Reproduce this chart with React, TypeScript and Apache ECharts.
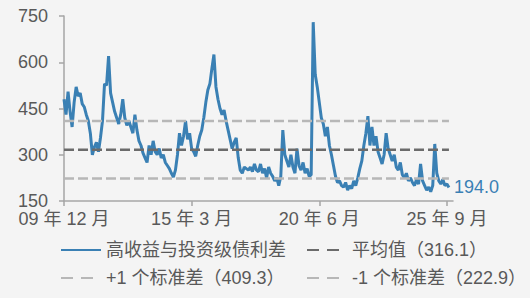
import React, { useEffect, useRef } from "react";
import * as echarts from "echarts";

// Monthly spread values, Dec 2009 .. Oct 2025 (bp)
const spread: number[] = [
  480, 430, 505, 440, 390, 470, 520, 490, 500, 465,
  455, 430, 410, 370, 300, 325, 340, 310, 355, 410,
  530, 525, 620, 500, 470, 440, 420, 400, 430, 480,
  420, 395, 410, 390, 370, 430, 380, 345, 330, 305,
  290, 275, 330, 300, 345, 310, 300, 320, 290, 300,
  275, 265, 255, 240, 228, 250, 300, 370, 330, 360,
  410, 350, 370, 320, 310, 295, 330, 360, 380, 420,
  470, 510, 530, 580, 625, 520, 480, 450, 430, 445,
  410, 380, 350, 320, 340, 355, 290, 250, 240, 260,
  255, 250, 260, 245, 270, 250, 245, 270, 240, 255,
  225, 260, 240, 230, 215, 225, 200, 230, 380, 300,
  280, 260, 300, 260, 240, 320, 265, 250, 275, 240,
  255, 230, 235, 730, 560, 520, 470, 420, 400, 360,
  390, 330, 300, 265, 230, 210, 215, 200, 195, 210,
  185, 200, 190, 215, 200, 225, 255, 280, 330, 370,
  425, 330, 390, 330, 360, 310, 290, 270, 300, 370,
  320, 300, 280, 300, 260, 250, 275, 235, 225, 240,
  215, 225, 210, 200, 220, 205, 270, 215, 200, 185,
  195, 180, 200, 335, 240, 215, 205, 220, 200, 205, 194,
];

const meanValue = 316.1;
const plusOneSd = 409.3;
const minusOneSd = 222.9;

const seriesNames = [
  "高收益与投资级债利差",
  "平均值（316.1）",
  "+1 个标准差（409.3）",
  "-1 个标准差（222.9）",
];

const xTickLabels = ["09 年 12 月", "15 年 3 月", "20 年 6 月", "25 年 9 月"];
const monthsPerTick = 63;
const axisMonthCount = 193;
const startYear = 2009;
const startMonth = 12;

const yMin = 150;
const yMax = 750;
const yInterval = 150;

const BLUE = "#3a80b4";
const DARK = "#6b6b6b";
const LIGHT = "#b7b7b7";
const FONT = "'Liberation Sans', Arial, 'Noto Sans CJK SC', sans-serif";

const categories: string[] = [];
for (let i = 0; i < axisMonthCount; i++) {
  const t = startYear * 12 + (startMonth - 1) + i;
  categories.push(`${Math.floor(t / 12)}-${(t % 12) + 1}`);
}

export default function App() {
  const ref = useRef<HTMLDivElement>(null);

  useEffect(() => {
    if (!ref.current) return;
    const chart = echarts.init(ref.current, undefined, { renderer: "svg" });
    const flat = (v: number) => spread.map(() => v);

    const legendCommon = {
      orient: "horizontal",
      itemWidth: 40,
      itemHeight: 14,
      padding: 0,
      itemGap: 0,
      selectedMode: false,
      itemStyle: { opacity: 0 },
      textStyle: { fontSize: 18, color: "#595959", fontFamily: FONT, lineHeight: 20 },
    };

    chart.setOption({
      animation: false,
      backgroundColor: "#f4f4f4",
      grid: { left: 64, right: 77, top: 16, bottom: 97 },
      xAxis: {
        type: "category",
        data: categories,
        boundaryGap: false,
        axisLine: { lineStyle: { color: "#a6a6a6", width: 1.5 } },
        axisTick: { show: true, interval: monthsPerTick - 1, length: 5, lineStyle: { color: "#a6a6a6", width: 1.5 } },
        axisLabel: {
          interval: monthsPerTick - 1,
          margin: 9,
          fontSize: 18,
          lineHeight: 18,
          color: "#595959",
          fontFamily: FONT,
          formatter: (_v: string, idx: number) =>
            idx % monthsPerTick === 0 ? xTickLabels[idx / monthsPerTick] ?? "" : "",
        },
        splitLine: { show: false },
      },
      yAxis: {
        type: "value",
        min: yMin,
        max: yMax,
        interval: yInterval,
        axisLine: { show: true, lineStyle: { color: "#a6a6a6", width: 1.5 } },
        axisTick: { show: true, length: 5, lineStyle: { color: "#a6a6a6", width: 1.5 } },
        axisLabel: { fontSize: 18, lineHeight: 15, color: "#595959", fontFamily: FONT, margin: 16 },
        splitLine: { show: false },
      },
      legend: [
        { ...legendCommon, left: 60, top: 240, data: [{ name: seriesNames[0] }] },
        { ...legendCommon, left: 306, top: 240, data: [{ name: seriesNames[1], lineStyle: { type: [12, 8] } }] },
        { ...legendCommon, left: 60, top: 268, data: [{ name: seriesNames[2], lineStyle: { type: [12, 8] } }] },
        { ...legendCommon, left: 306, top: 268, data: [{ name: seriesNames[3], lineStyle: { type: [12, 8] } }] },
      ],
      series: [
        {
          name: seriesNames[0],
          type: "line",
          data: spread,
          symbol: "none",
          color: BLUE,
          lineStyle: { color: BLUE, width: 3 },
          z: 2,
          endLabel: {
            show: true,
            formatter: (p: any) => Number(p.value).toFixed(1),
            color: BLUE,
            fontSize: 18,
            fontFamily: FONT,
            distance: 5,
          },
        },
        {
          name: seriesNames[1],
          type: "line",
          data: flat(meanValue),
          symbol: "none",
          color: DARK,
          lineStyle: { color: DARK, width: 2.5, type: [10, 4] },
          z: 3,
        },
        {
          name: seriesNames[2],
          type: "line",
          data: flat(plusOneSd),
          symbol: "none",
          color: LIGHT,
          lineStyle: { color: LIGHT, width: 2.5, type: [10, 4] },
          z: 3,
        },
        {
          name: seriesNames[3],
          type: "line",
          data: flat(minusOneSd),
          symbol: "none",
          color: LIGHT,
          lineStyle: { color: LIGHT, width: 2.5, type: [10, 4] },
          z: 3,
        },
      ],
    });
    return () => chart.dispose();
  }, []);

  return (
    <div
      ref={ref}
      style={{ position: "fixed", left: 0, top: 0, width: 530, height: 298 }}
    />
  );
}
